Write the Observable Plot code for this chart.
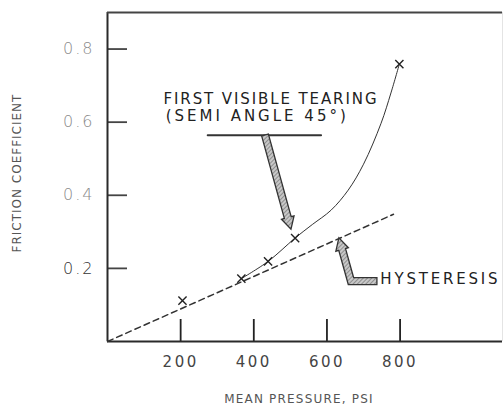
<!DOCTYPE html>
<html><head><meta charset="utf-8">
<script src="https://cdn.jsdelivr.net/npm/d3@7"></script>
<script src="https://cdn.jsdelivr.net/npm/@observablehq/plot@0.6"></script>
<style>
html,body{margin:0;padding:0;background:#fff;}
g[aria-label="y-axis tick label"] text{letter-spacing:2px;}
g[aria-label="x-axis tick label"] text{letter-spacing:2.5px;}
</style></head><body><div id="chart"></div>
<script>
// axes
const xTicks = [200, 400, 600, 800];
const yTicks = [0.2, 0.4, 0.6, 0.8];
const xDomain = [0, 1080];
const yDomain = [0, 0.9];
const xTitle = "MEAN PRESSURE, PSI";
const yTitle = "FRICTION COEFFICIENT";
// measured points (x markers)
const pressure = [205, 366, 439, 513, 798];
const friction = [0.112, 0.172, 0.219, 0.283, 0.759];
// first visible tearing curve (solid)
const tearP = [366, 439, 513, 560, 611, 658, 700, 748, 775, 798];
const tearF = [0.172, 0.219, 0.283, 0.320, 0.359, 0.414, 0.485, 0.597, 0.680, 0.759];
// hysteresis line (dashed)
const hystP = [0, 782];
const hystF = [0, 0.348];
// annotation texts
const annText = ["FIRST VISIBLE TEARING", "(SEMI ANGLE 45°)", "HYSTERESIS"];
const annP = [153, 159, 746];
const annF = [0.662, 0.615, 0.170];
const annSpacing = [1.9, 3.0, 2.8];
// annotation arrows (data units)
const leaderP = [274, 584];
const leaderF = [0.564, 0.564];
const tearArrowP = [432, 503];
const tearArrowF = [0.5635, 0.306];
const hystArrowP = [738, 667, 634];
const hystArrowF = [0.164, 0.164, 0.282];

const points = pressure.map((p, i) => ({p, f: friction[i]}));
const tear = tearP.map((p, i) => ({p, f: tearF[i]}));
const hyst = hystP.map((p, i) => ({p, f: hystF[i]}));
const ann = annText.map((t, i) => ({t, p: annP[i], f: annF[i]}));
const leader = leaderP.map((p, i) => ({p, f: leaderF[i]}));

const font = "DejaVu Sans";
const plot = Plot.plot({
  width: 504, height: 405,
  marginLeft: 107, marginTop: 12, marginRight: 2, marginBottom: 64,
  style: {fontFamily: font, background: "#fff"},
  x: {domain: xDomain, label: null},
  y: {domain: yDomain, label: null},
  marks: [
    // ticks inside the frame
    Plot.axisY(yTicks, {tickSize: -20, tickFormat: () => "", stroke: "#444", strokeWidth: 1.8, label: null}),
    Plot.axisX(xTicks, {tickSize: -22, tickFormat: () => "", stroke: "#222", strokeWidth: 1.8, label: null}),
    // labels
    Plot.axisY(yTicks, {tickSize: 0, tickPadding: 13, fontSize: 16, fill: "#8a8a8a", fontWeight: 300, label: null}),
    Plot.axisX(xTicks, {tickSize: 0, tickPadding: 15, fontSize: 15, fill: "#444", label: null}),
    // frame
    Plot.ruleX([xDomain[0]], {stroke: "#2a2a2a", strokeWidth: 2}),
    Plot.ruleY([yDomain[0]], {stroke: "#2a2a2a", strokeWidth: 2}),
    Plot.ruleY([yDomain[1]], {stroke: "#444", strokeWidth: 2}),
    Plot.ruleX([xDomain[1]], {stroke: "#e4e4e4", strokeWidth: 1}),
    // data
    Plot.line(hyst, {x: "p", y: "f", stroke: "#333", strokeWidth: 1.5, strokeDasharray: "6,4"}),
    Plot.line(tear, {x: "p", y: "f", stroke: "#333", strokeWidth: 1, curve: "catmull-rom"}),
    Plot.dot(points, {x: "p", y: "f", symbol: "times", r: 3.8, stroke: "#222", strokeWidth: 1.4}),
    Plot.line(leader, {x: "p", y: "f", stroke: "#333", strokeWidth: 2}),
    // annotations
    Plot.text(ann, {x: "p", y: "f", text: "t", textAnchor: "start", lineAnchor: "middle", fontSize: 15, fill: "#222"}),
    Plot.text([yTitle], {frameAnchor: "left", textAnchor: "middle", dx: -90, dy: -4, rotate: -90, fontSize: 12, fill: "#555"}),
    Plot.text([xTitle], {frameAnchor: "bottom", textAnchor: "middle", dy: 61, dx: -6, fontSize: 12, fill: "#555"})
  ]
});

const sx = plot.scale("x"), sy = plot.scale("y");
const svg = d3.select(plot);
svg.selectAll("text").each(function() {
  const t = this.textContent;
  const k = annText.indexOf(t);
  if (k >= 0) this.style.letterSpacing = annSpacing[k] + "px";
  if (t === yTitle) this.style.letterSpacing = "1px";
  if (t === xTitle) this.style.letterSpacing = "1.2px";
});
svg.selectAll('g[aria-label="y-axis tick label"] text').each(function() {
  if (this.textContent.trim() === "0.2") this.setAttribute("fill", "#333");
});
const defs = svg.append("defs");
const pat = defs.append("pattern").attr("id", "hatch").attr("patternUnits", "userSpaceOnUse")
  .attr("width", 3).attr("height", 3).attr("patternTransform", "rotate(45)");
pat.append("rect").attr("width", 3).attr("height", 3).attr("fill", "#c8c8c8");
pat.append("line").attr("x1", 0).attr("y1", 0).attr("x2", 0).attr("y2", 3).attr("stroke", "#666").attr("stroke-width", 1.2);

function drawArrow(xs, ys, shaft, head, headLen) {
  const pts = xs.map((v, i) => [sx.apply(v), sy.apply(ys[i])]);
  const n = pts.length;
  const tip = pts[n - 1], prev = pts[n - 2];
  const L = Math.hypot(tip[0] - prev[0], tip[1] - prev[1]);
  const ux = (tip[0] - prev[0]) / L, uy = (tip[1] - prev[1]) / L;
  const base = [tip[0] - ux * headLen, tip[1] - uy * headLen];
  const line = pts.slice(0, n - 1).concat([base]);
  const nrm = (a, b) => { const dx = b[0] - a[0], dy = b[1] - a[1], l = Math.hypot(dx, dy); return [-dy / l, dx / l]; };
  const h = shaft / 2, left = [], right = [];
  for (let i = 0; i < line.length; i++) {
    let m;
    if (i === 0) m = nrm(line[0], line[1]);
    else if (i === line.length - 1) m = nrm(line[i - 1], line[i]);
    else {
      const n1 = nrm(line[i - 1], line[i]), n2 = nrm(line[i], line[i + 1]);
      let mx = n1[0] + n2[0], my = n1[1] + n2[1]; const ml = Math.hypot(mx, my);
      mx /= ml; my /= ml;
      const d = 1 / (mx * n1[0] + my * n1[1]);
      m = [mx * d, my * d];
    }
    left.push([line[i][0] + m[0] * h, line[i][1] + m[1] * h]);
    right.push([line[i][0] - m[0] * h, line[i][1] - m[1] * h]);
  }
  const nx = -uy, ny = ux, hw = head / 2;
  const poly = [...left, [base[0] + nx * hw, base[1] + ny * hw], tip, [base[0] - nx * hw, base[1] - ny * hw], ...right.reverse()];
  svg.append("path").attr("d", "M" + poly.map(p => p.map(v => v.toFixed(2)).join(",")).join("L") + "Z")
    .attr("fill", "url(#hatch)").attr("stroke", "#333").attr("stroke-width", 1.3).attr("stroke-linejoin", "miter");
}
drawArrow(tearArrowP, tearArrowF, 7, 13, 12);
drawArrow(hystArrowP, hystArrowF, 7, 13, 12);

document.getElementById("chart").appendChild(plot);
</script></body></html>
